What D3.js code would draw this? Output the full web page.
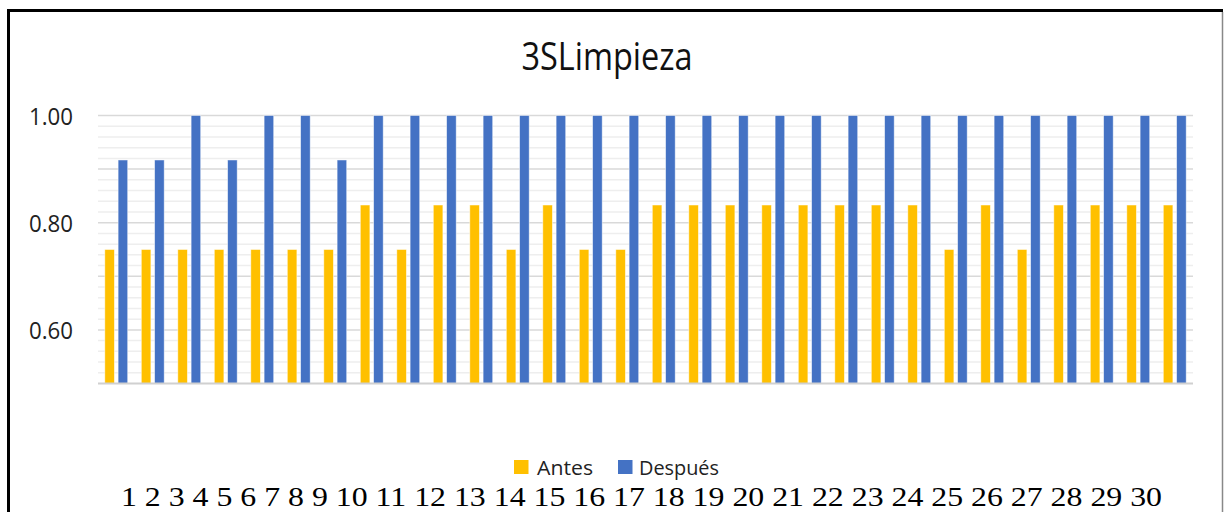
<!DOCTYPE html>
<html><head><meta charset="utf-8">
<script src="https://cdn.jsdelivr.net/npm/d3@7"></script>
<style>html,body{margin:0;padding:0;background:#fff;}svg{display:block;}</style>
</head><body>
<svg id="chart" width="1225" height="512"></svg>
<script>
const title = "3SLimpieza";
const categories = ["1","2","3","4","5","6","7","8","9","10","11","12","13","14","15","16","17","18","19","20","21","22","23","24","25","26","27","28","29","30"];
const seriesNames = ["Antes","Después"];
const antes = [0.75,0.75,0.75,0.75,0.75,0.75,0.75,0.833,0.75,0.833,0.833,0.75,0.833,0.75,0.75,0.833,0.833,0.833,0.833,0.833,0.833,0.833,0.833,0.75,0.833,0.75,0.833,0.833,0.833,0.833];
const despues = [0.917,0.917,1,0.917,1,1,0.917,1,1,1,1,1,1,1,1,1,1,1,1,1,1,1,1,1,1,1,1,1,1,1];
const yTicks = [0.60,0.80,1.00];
const colors = ["#FFC000","#4472C4"];

const svg = d3.select("#chart");
const plot = {left:98, right:1193, top:115.5, bottom:383.5};

const x = d3.scaleBand().domain(categories).range([plot.left, plot.right]).padding(0);
const x1 = d3.scaleBand().domain(seriesNames).range([6.8, 29.7]).paddingInner(0.28);
const y = d3.scaleLinear().domain([0.5, 1.0]).range([plot.bottom, plot.top]);

// minor gridlines
const minor = d3.range(0, 26).map(i => 0.5 + i*0.02).filter(v => Math.abs((v*10) - Math.round(v*10)) > 1e-6);
svg.append("g").selectAll("line").data(minor).join("line")
  .attr("x1", plot.left).attr("x2", plot.right)
  .attr("y1", d => y(d)).attr("y2", d => y(d))
  .attr("stroke", "#eeeeee").attr("stroke-width", 1.5);
// major gridlines
const major = [0.6,0.7,0.8,0.9,1.0];
svg.append("g").selectAll("line").data(major).join("line")
  .attr("x1", plot.left).attr("x2", plot.right)
  .attr("y1", d => y(d)).attr("y2", d => y(d))
  .attr("stroke", "#d9d9d9").attr("stroke-width", 1.5);

// bars
const data = categories.map((c,i) => ({c, vals:[antes[i], despues[i]]}));
const groups = svg.append("g").selectAll("g").data(data).join("g")
  .attr("transform", d => `translate(${x(d.c)},0)`);
groups.selectAll("rect").data(d => d.vals.map((v,j) => ({k:seriesNames[j], v, j}))).join("rect")
  .attr("x", d => x1(d.k)).attr("width", x1.bandwidth())
  .attr("y", d => y(d.v)).attr("height", d => y(0.5) - y(d.v))
  .attr("fill", d => colors[d.j])
  .attr("stroke", "#ffffff").attr("stroke-opacity", 0.6).attr("stroke-width", 0.8);

// baseline
svg.append("line").attr("x1", plot.left).attr("x2", plot.right)
  .attr("y1", y(0.5)).attr("y2", y(0.5)).attr("stroke", "#d0d0d0").attr("stroke-width", 2);

// y labels
const yAxis = d3.axisLeft(y).tickValues(yTicks).tickFormat(d3.format(".2f")).tickSize(0).tickPadding(0);
const ya = svg.append("g").attr("transform", "translate(73,0)").call(yAxis);
ya.select(".domain").remove();
ya.selectAll("text")
  .attr("font-family", "'Open Sans', sans-serif").attr("font-size", 24)
  .attr("fill", "#222").attr("dy", "0.36em")
  .attr("textLength", 44).attr("lengthAdjust", "spacingAndGlyphs");

// title
svg.append("text").attr("x", 607).attr("y", 70).attr("text-anchor", "middle")
  .attr("font-family", "'Open Sans', sans-serif").attr("font-size", 37.5).attr("fill", "#111")
  .attr("textLength", 171).attr("lengthAdjust", "spacingAndGlyphs").text(title);

// legend
const legendItems = [
  {name: seriesNames[0], sx: 514, tx: 537, tw: 56},
  {name: seriesNames[1], sx: 618, tx: 639, tw: 80}
];
const lg = svg.append("g");
lg.selectAll("rect").data(legendItems).join("rect")
  .attr("x", d => d.sx).attr("y", 460).attr("width", 14.5).attr("height", 14)
  .attr("fill", (d,i) => colors[i]);
lg.selectAll("text").data(legendItems).join("text")
  .attr("x", d => d.tx).attr("y", 474.5)
  .attr("font-family", "'Open Sans', sans-serif").attr("font-size", 20).attr("fill", "#222")
  .attr("textLength", d => d.tw).attr("lengthAdjust", "spacingAndGlyphs")
  .text(d => d.name);

// category labels line
svg.append("text").attr("x", 121).attr("y", 506)
  .attr("font-family", "'Liberation Serif', 'Times New Roman', serif").attr("font-size", 28).attr("fill", "#000")
  .attr("textLength", 1041).attr("lengthAdjust", "spacingAndGlyphs")
  .text(categories.join(" "));

// frame
svg.append("line").attr("x1", 8.5).attr("x2", 8.5).attr("y1", 9).attr("y2", 512).attr("stroke", "#000").attr("stroke-width", 3);
svg.append("line").attr("x1", 7).attr("x2", 1223).attr("y1", 10.5).attr("y2", 10.5).attr("stroke", "#000").attr("stroke-width", 3);
svg.append("line").attr("x1", 1222.5).attr("x2", 1222.5).attr("y1", 12).attr("y2", 512).attr("stroke", "#888").attr("stroke-width", 1.5);
</script>
</body></html>
